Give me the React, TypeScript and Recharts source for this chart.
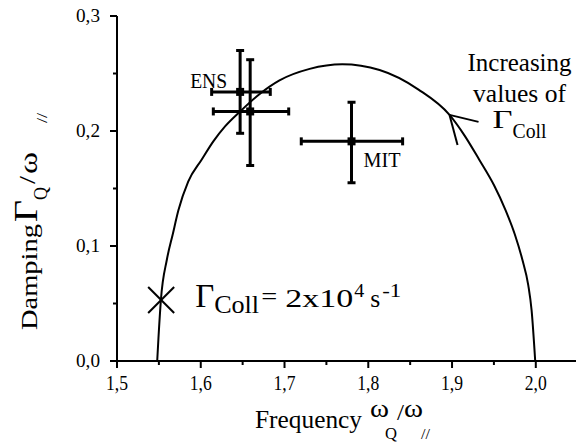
import React from 'react';
import { ComposedChart, Line, Scatter, XAxis, YAxis, ErrorBar, ReferenceDot, Label } from 'recharts';

const FONT = "'Liberation Serif', 'Times New Roman', 'DejaVu Serif', serif";
const FS = { fontFamily: FONT };

// Theoretical curve
const curveX = [1.548, 1.5495, 1.5524, 1.5595, 1.5665, 1.5733, 1.585, 1.601, 1.615, 1.629, 1.647, 1.67, 1.694, 1.73, 1.769, 1.8135, 1.86, 1.897, 1.915, 1.9325, 1.95, 1.964, 1.975, 1.984, 1.991, 1.995, 1.9993];
const curveY = [0, 0.02, 0.053, 0.088, 0.11, 0.131, 0.156, 0.175, 0.191, 0.204, 0.217, 0.232, 0.244, 0.254, 0.258, 0.253, 0.236, 0.214, 0.196, 0.175, 0.153, 0.131, 0.11, 0.088, 0.066, 0.044, 0];

// Experimental points
const pointNames = ['ENS', '', 'MIT'];
const pointX = [1.647, 1.659, 1.78];
const pointY = [0.234, 0.217, 0.191];
const xErrLow = [0.034, 0.044, 0.06];
const xErrHigh = [0.036, 0.046, 0.061];
const yErrLow = [0.036, 0.047, 0.036];
const yErrHigh = [0.036, 0.045, 0.034];

// Annotation anchors
const collX = 1.5527;
const collY = 0.053;
const arrowX = 1.897;
const arrowY = 0.214;

// Ticks
const xTicks = [1.5, 1.55, 1.6, 1.65, 1.7, 1.75, 1.8, 1.85, 1.9, 1.95, 2.0];
const yTicks = [0, 0.05, 0.1, 0.15, 0.2, 0.25, 0.3];
const xDomain = [1.5, 2.048];
const yDomain = [0, 0.3];

const curve = curveX.map((x, i) => ({ x, y: curveY[i] }));
const points = pointX.map((x, i) => ({
  name: pointNames[i],
  x,
  y: pointY[i],
  ex: [xErrLow[i], xErrHigh[i]],
  ey: [yErrLow[i], yErrHigh[i]],
}));

const isMajor = (v: number) => Math.abs(v * 10 - Math.round(v * 10)) < 1e-6;
const fmt = (v: number) => v.toFixed(1).replace('.', ',');

const T = ({ x, y, size, children, anchor = 'start', len }: any) => (
  <text
    x={x}
    y={y}
    fontSize={size}
    style={FS}
    textAnchor={anchor}
    fill="#000"
    {...(len ? { textLength: len, lengthAdjust: 'spacingAndGlyphs' } : {})}
  >
    {children}
  </text>
);

const XTick = (props: any) => {
  const { x, y, payload } = props;
  const v = payload.value;
  const major = isMajor(v);
  return (
    <g>
      <line x1={x} y1={y} x2={x} y2={y + (major ? 7 : 4)} stroke="#000" strokeWidth={2} />
      {major && <T x={x} y={y + 29} size={22} anchor="middle" len={22}>{fmt(v)}</T>}
    </g>
  );
};

const YTick = (props: any) => {
  const { x, y, payload } = props;
  const v = payload.value;
  const major = isMajor(v);
  return (
    <g>
      <line x1={x - (major ? 7 : 4)} y1={y} x2={x} y2={y} stroke="#000" strokeWidth={2} />
      {major && <T x={x - 17} y={y + 6} size={18} anchor="end" len={24}>{fmt(v)}</T>}
    </g>
  );
};

const XLabel = (props: any) => {
  const vb = props.viewBox || { x: 117, y: 361 };
  const x0 = vb.x;
  const y0 = vb.y;
  return (
    <g>
      <T x={x0 + 138} y={y0 + 67} size={26} len={107}>Frequency</T>
      <T x={x0 + 253} y={y0 + 56} size={26} len={19}>ω</T>
      <T x={x0 + 268} y={y0 + 78} size={17} len={12}>Q</T>
      <T x={x0 + 280} y={y0 + 59} size={24} len={7}>/</T>
      <T x={x0 + 287} y={y0 + 56} size={26} len={19}>ω</T>
      <T x={x0 + 304} y={y0 + 78} size={14} len={9}>//</T>
    </g>
  );
};

const YLabel = (props: any) => {
  const vb = props.viewBox || { x: 0, y: 16 };
  const ox = vb.x + 37;
  const oy = vb.y + 314;
  return (
    <g transform={`translate(${ox},${oy}) rotate(-90)`}>
      <T x={0} y={0} size={24} len={106}>Damping</T>
      <T x={108} y={0} size={34} len={22}>Γ</T>
      <T x={130} y={10} size={18} len={13}>Q</T>
      <T x={146} y={-2} size={24} len={8}>/</T>
      <T x={156} y={0} size={26} len={22}>ω</T>
      <T x={207} y={10} size={14} len={10}>//</T>
    </g>
  );
};

const PointShape = (props: any) => {
  const { cx, cy, payload } = props;
  const name = payload?.name;
  return (
    <g>
      <rect x={cx - 4} y={cy - 4} width={8} height={8} fill="#000" />
      {name === 'ENS' && <T x={cx - 13} y={cy - 4} size={21} anchor="end" len={37}>{name}</T>}
      {name === 'MIT' && <T x={cx + 12} y={cy + 26} size={21} len={37}>{name}</T>}
    </g>
  );
};

const CollShape = (props: any) => {
  const { cx, cy } = props;
  return (
    <g>
      <line x1={cx - 13} y1={cy - 13} x2={cx + 13} y2={cy + 13} stroke="#000" strokeWidth={2} />
      <line x1={cx - 13} y1={cy + 13} x2={cx + 13} y2={cy - 13} stroke="#000" strokeWidth={2} />
      <T x={cx + 34} y={cy + 7} size={33} len={19}>Γ</T>
      <T x={cx + 53} y={cy + 13} size={25} len={45}>Coll</T>
      <T x={cx + 100} y={cy + 5} size={26} len={16}>=</T>
      <T x={cx + 124} y={cy + 7} size={25} len={68}>2x10</T>
      <T x={cx + 193} y={cy - 3} size={18} len={10}>4</T>
      <T x={cx + 209} y={cy + 7} size={25} len={10}>s</T>
      <T x={cx + 221} y={cy - 3} size={19} len={19}>-1</T>
    </g>
  );
};

const ArrowShape = (props: any) => {
  const { cx, cy } = props;
  return (
    <g>
      <line x1={cx} y1={cy} x2={cx + 8} y2={cy + 30} stroke="#000" strokeWidth={2} />
      <line x1={cx} y1={cy} x2={cx + 29} y2={cy + 7} stroke="#000" strokeWidth={2} />
      <T x={cx + 70} y={cy - 44} size={25} anchor="middle" len={104}>Increasing</T>
      <T x={cx + 70} y={cy - 13} size={25} anchor="middle" len={93}>values of</T>
      <T x={cx + 43} y={cy + 13} size={25} len={20}>Γ</T>
      <T x={cx + 63} y={cy + 23} size={21} len={34}>Coll</T>
    </g>
  );
};

export default function App() {
  return (
    <div style={{ position: 'absolute', left: 0, top: 0, width: 576, height: 443, background: '#fff', fontFamily: FONT }}>
      <ComposedChart width={576} height={443} margin={{ top: 16, right: 0, bottom: 0, left: 0 }} style={FS}>
        <XAxis
          dataKey="x"
          type="number"
          domain={xDomain}
          ticks={xTicks}
          allowDataOverflow
          height={82}
          tickSize={0}
          tickMargin={0}
          tickLine={false}
          tick={<XTick />}
          interval={0}
          axisLine={{ stroke: '#000', strokeWidth: 2 }}
        >
          <Label content={XLabel} />
        </XAxis>
        <YAxis
          type="number"
          domain={yDomain}
          ticks={yTicks}
          allowDataOverflow
          width={117}
          tickSize={0}
          tickMargin={0}
          tickLine={false}
          tick={<YTick />}
          interval={0}
          axisLine={{ stroke: '#000', strokeWidth: 2 }}
        >
          <Label content={YLabel} />
        </YAxis>
        <Line
          data={curve}
          dataKey="y"
          type="monotone"
          dot={false}
          stroke="#000"
          strokeWidth={2}
          isAnimationActive={false}
        />
        <Scatter data={points} dataKey="y" shape={<PointShape />} isAnimationActive={false}>
          <ErrorBar dataKey="ex" direction="x" width={4} stroke="#000" strokeWidth={3} />
          <ErrorBar dataKey="ey" direction="y" width={4} stroke="#000" strokeWidth={3} />
        </Scatter>
        <ReferenceDot x={collX} y={collY} r={0} ifOverflow="visible" shape={<CollShape />} />
        <ReferenceDot x={arrowX} y={arrowY} r={0} ifOverflow="visible" shape={<ArrowShape />} />
      </ComposedChart>
    </div>
  );
}
